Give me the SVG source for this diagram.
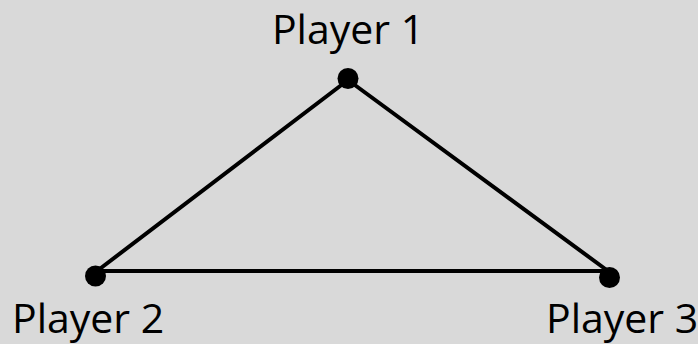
<svg xmlns="http://www.w3.org/2000/svg" width="698" height="344" viewBox="0 0 698 344">
<style>
.lbl{font-family:"Open Sans","Liberation Sans",sans-serif;font-size:41px;fill:#000}
.edge{stroke:#000;stroke-width:4;fill:none;stroke-linecap:round}
.dot{fill:#000}
</style>
<rect width="698" height="344" fill="#d9d9d9"/>
<g id="connectors">
<line class="edge" x1="348" y1="80" x2="97" y2="271"/>
<line class="edge" x1="348" y1="80" x2="608" y2="271"/>
<line class="edge" x1="97" y1="271" x2="608" y2="271"/>
</g>
<g id="player1">
<circle class="dot" cx="348" cy="78.5" r="10.5"/>
<text class="lbl" x="348" y="44" text-anchor="middle">Player 1</text>
</g>
<g id="player2">
<circle class="dot" cx="95.5" cy="276" r="10.5"/>
<text class="lbl" x="12" y="333">Player 2</text>
</g>
<g id="player3">
<circle class="dot" cx="609.5" cy="277.5" r="10.5"/>
<text class="lbl" x="546" y="333">Player 3</text>
</g>
</svg>
